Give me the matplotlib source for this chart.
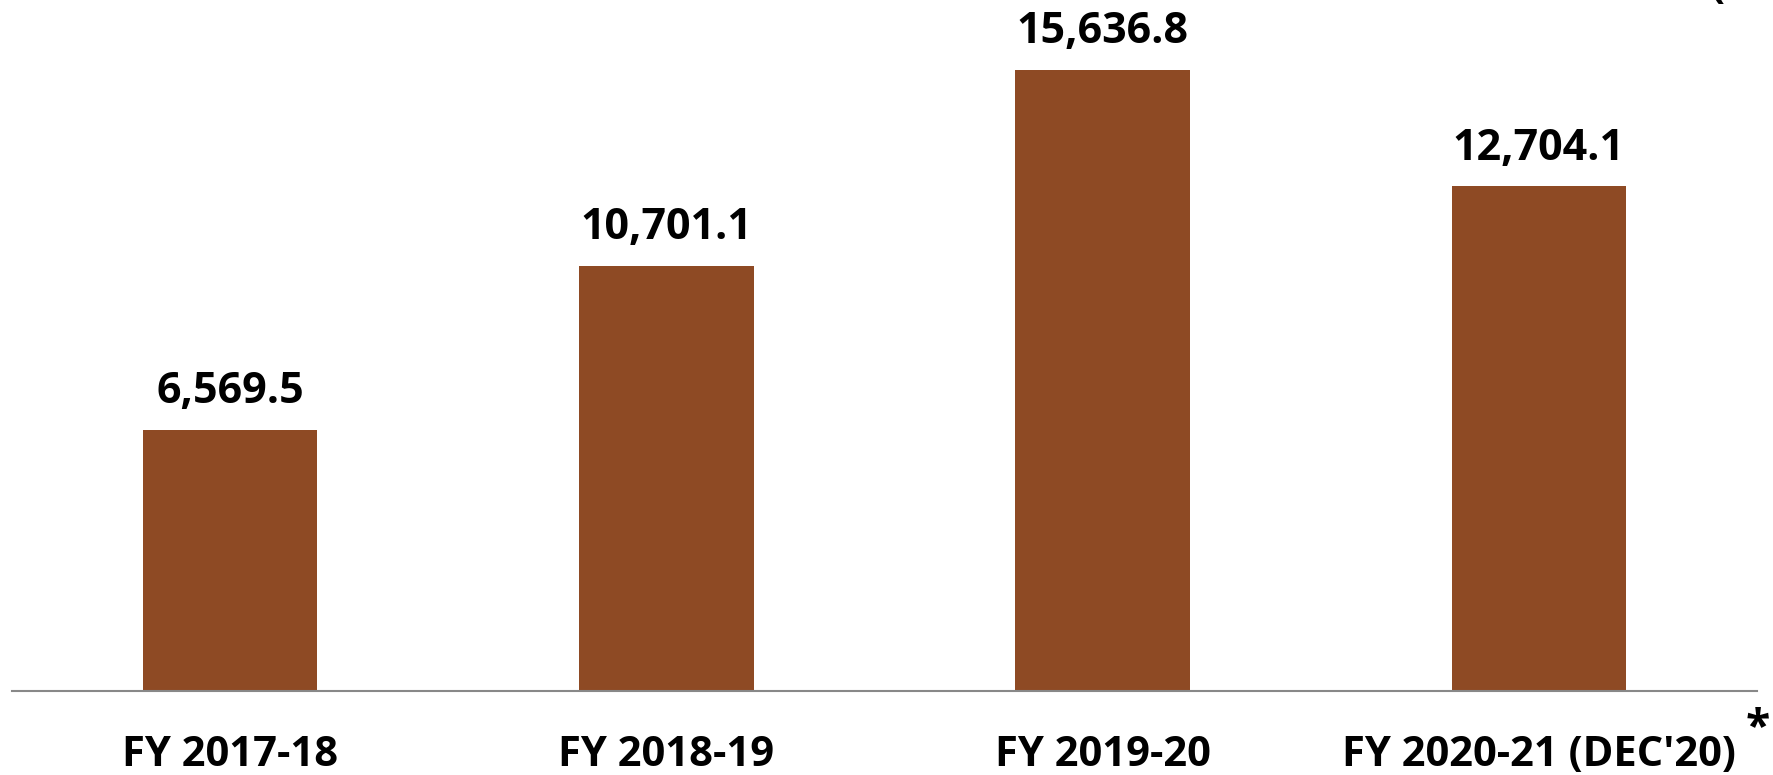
import matplotlib.pyplot as plt

# data
years = ["FY 2017-18", "FY 2018-19", "FY 2019-20", "FY 2020-21 (DEC'20)"]
values = [6569.5, 10701.1, 15636.8, 12704.1]
labels = ["6,569.5", "10,701.1", "15,636.8", "12,704.1"]

plt.rcParams['font.family'] = ['Open Sans', 'DejaVu Sans']

fig = plt.figure(figsize=(17.74, 7.75), dpi=100)
ax = fig.add_axes([12 / 1774, 84 / 775, 1745 / 1774, 691 / 775])

x = range(len(years))
ax.bar(x, values, width=0.4, color='#8E4A24')
for i, v in enumerate(values):
    ax.annotate(labels[i], (i, v), xytext=(0, 12), textcoords='offset points',
                ha='center', va='bottom', fontsize=31, fontweight='bold')

ax.set_xlim(-0.5, 3.5)
ax.set_ylim(0, 17390)
ax.set_xticks(list(x))
ax.set_xticklabels(years, fontsize=30, fontweight='bold')
ax.tick_params(axis='x', length=0, pad=32)
ax.set_yticks([])
for s in ['top', 'right', 'left']:
    ax.spines[s].set_visible(False)
ax.spines['bottom'].set_color('#888888')
ax.spines['bottom'].set_linewidth(1.5)

# asterisk next to last label and cut-off bracket at the top right
fig.text(1758 / 1774, 1 - 729 / 775, '*', ha='center', va='center',
         fontsize=32, fontweight='bold')
fig.text(1717 / 1774, 1 - 8 / 775, '(', ha='center', va='bottom',
         fontsize=30, fontweight='bold')

fig.savefig('out.png')
